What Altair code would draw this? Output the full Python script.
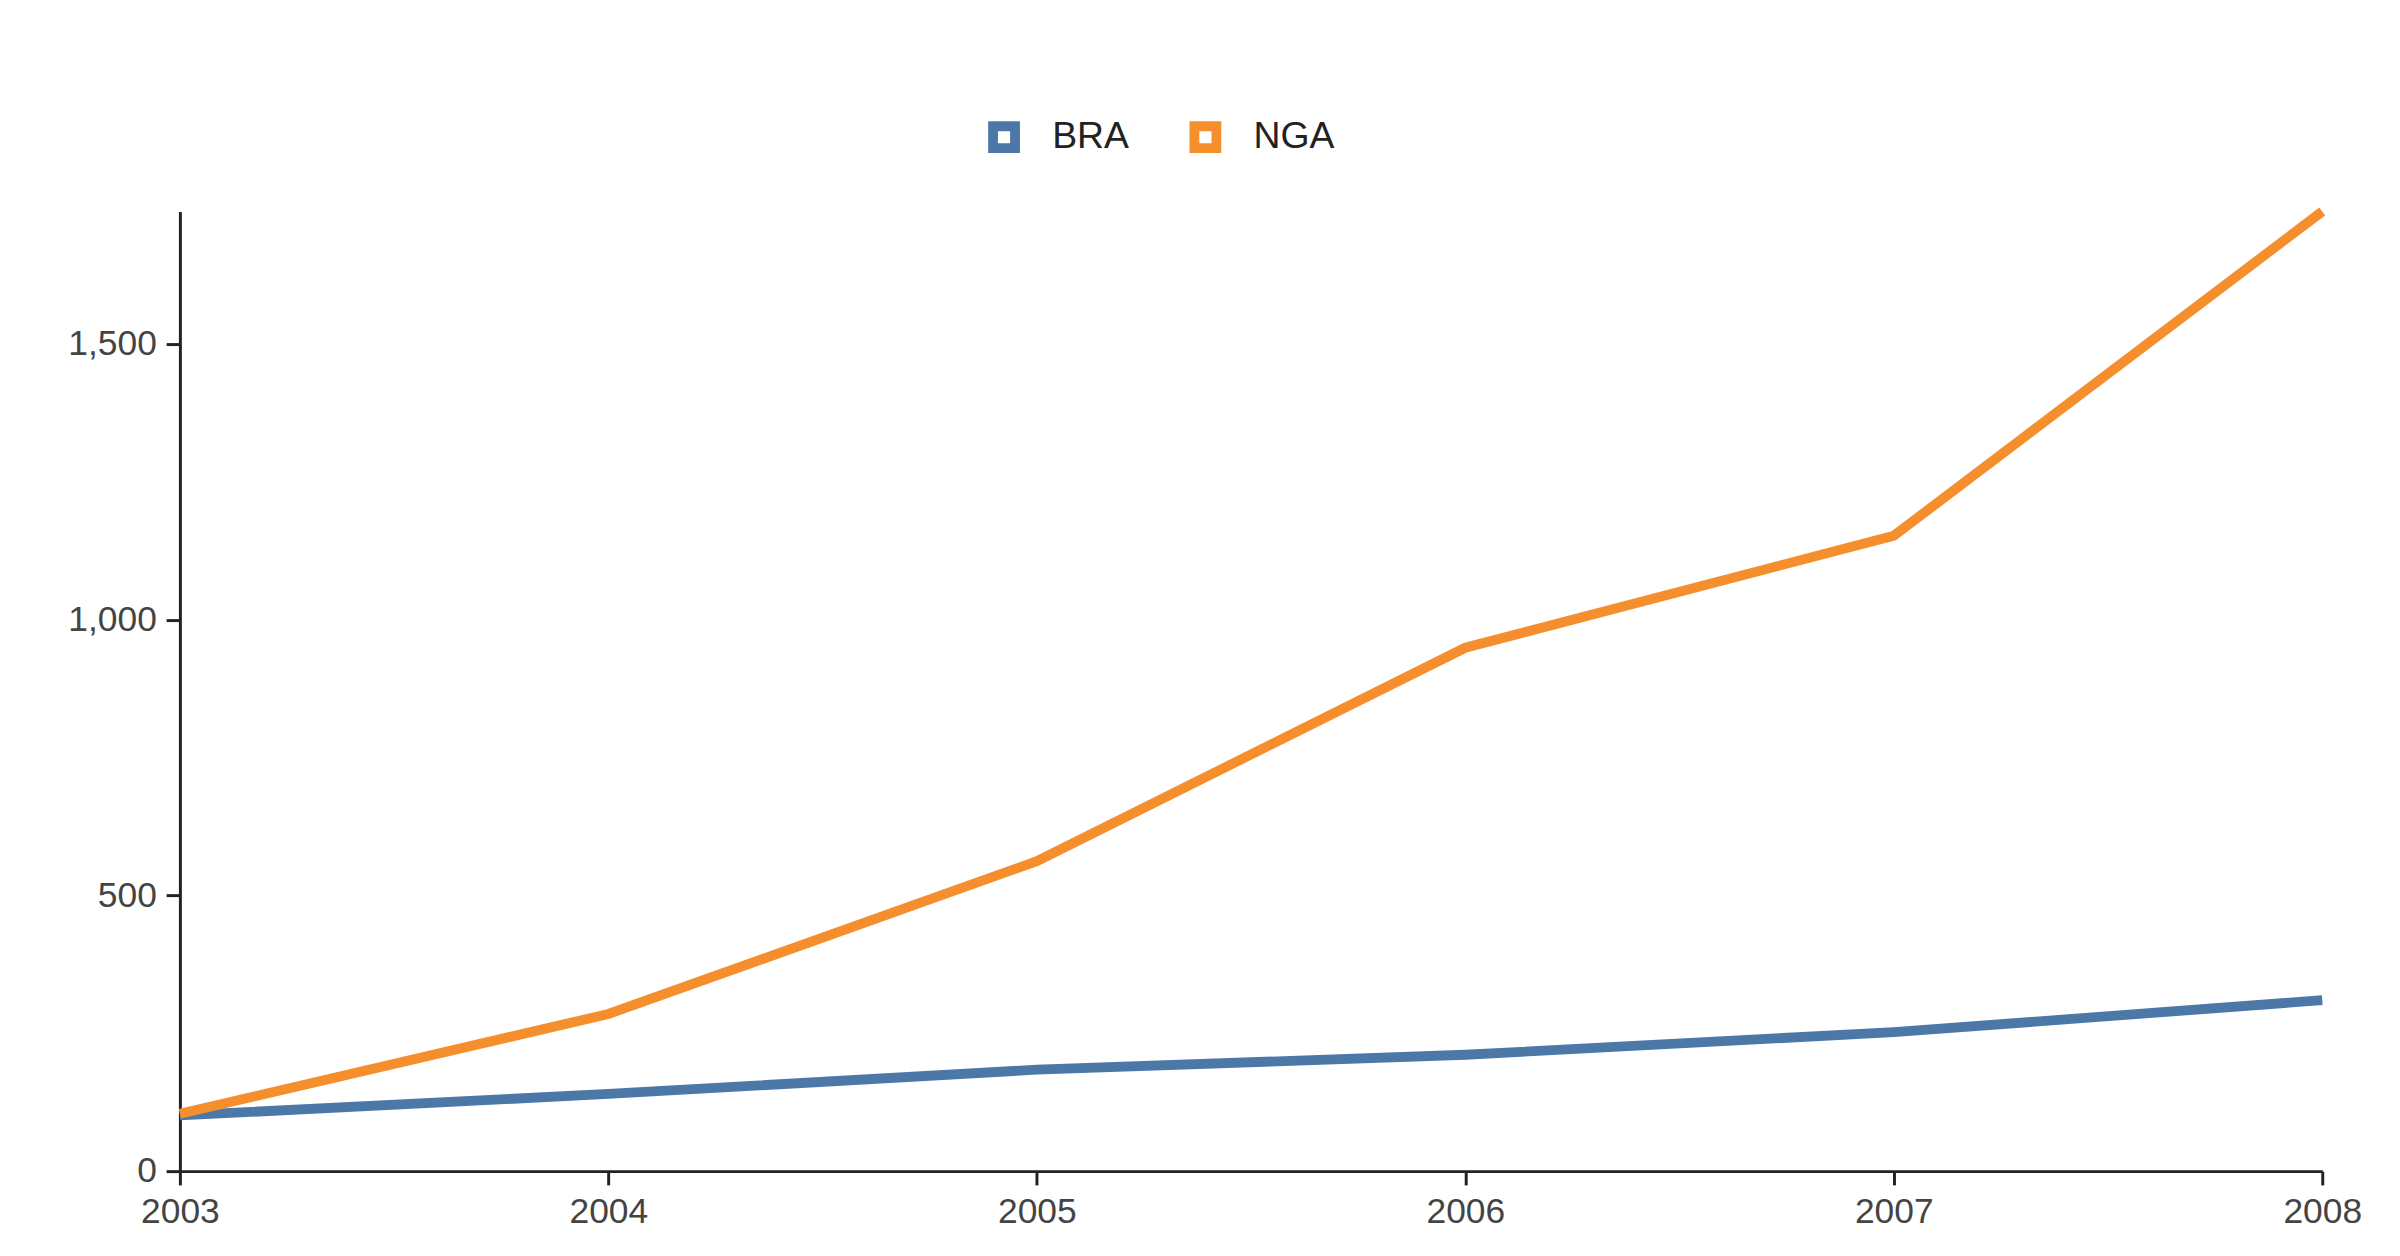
import altair as alt
import pandas as pd

years = [2003, 2004, 2005, 2006, 2007, 2008]
bra = [101, 140, 184, 211, 252, 310]
nga = [104, 285, 562, 949, 1152, 1740]

rows = []
for y, b, n in zip(years, bra, nga):
    rows.append({"year": y, "country": "BRA", "value": b})
    rows.append({"year": y, "country": "NGA", "value": n})
df = pd.DataFrame(rows)

axis_style = dict(title=None, grid=False, labelFontSize=36, tickSize=14, labelPadding=10,
                  domainColor="#222", tickColor="#222", labelColor="#444",
                  domainWidth=3, tickWidth=3, labelFlush=False)

chart = alt.Chart(df).mark_line(strokeWidth=10).encode(
    x=alt.X("year:Q", scale=alt.Scale(domain=[2003, 2008], nice=False),
            axis=alt.Axis(format="d", values=years, **axis_style)),
    y=alt.Y("value:Q", scale=alt.Scale(domain=[0, 1740], nice=False),
            axis=alt.Axis(values=[0, 500, 1000, 1500], **axis_style)),
    color=alt.Color("country:N",
                    scale=alt.Scale(domain=["BRA", "NGA"], range=["#4c78a8", "#f58f2e"]),
                    legend=alt.Legend(title=None, orient="none", direction="horizontal",
                                      legendX=820, legendY=-95,
                                      symbolType="square", symbolSize=500,
                                      symbolStrokeWidth=10, labelFontSize=38,
                                      columnPadding=45, labelOffset=30, labelColor="#222")),
).properties(
    width=2181, height=977,
    padding={"left": 60, "top": 100, "right": 30, "bottom": 20},
    title=alt.TitleParams("Mortality from accidents and injuries shows both preventable and demographic patterns.",
                          orient="bottom", anchor="start", frame="group", fontSize=36,
                          fontWeight="normal", color="#444", offset=60),
).configure(font="Liberation Sans").configure_view(stroke=None)

chart.save("out.html", embed_options={"renderer": "svg", "actions": False})
